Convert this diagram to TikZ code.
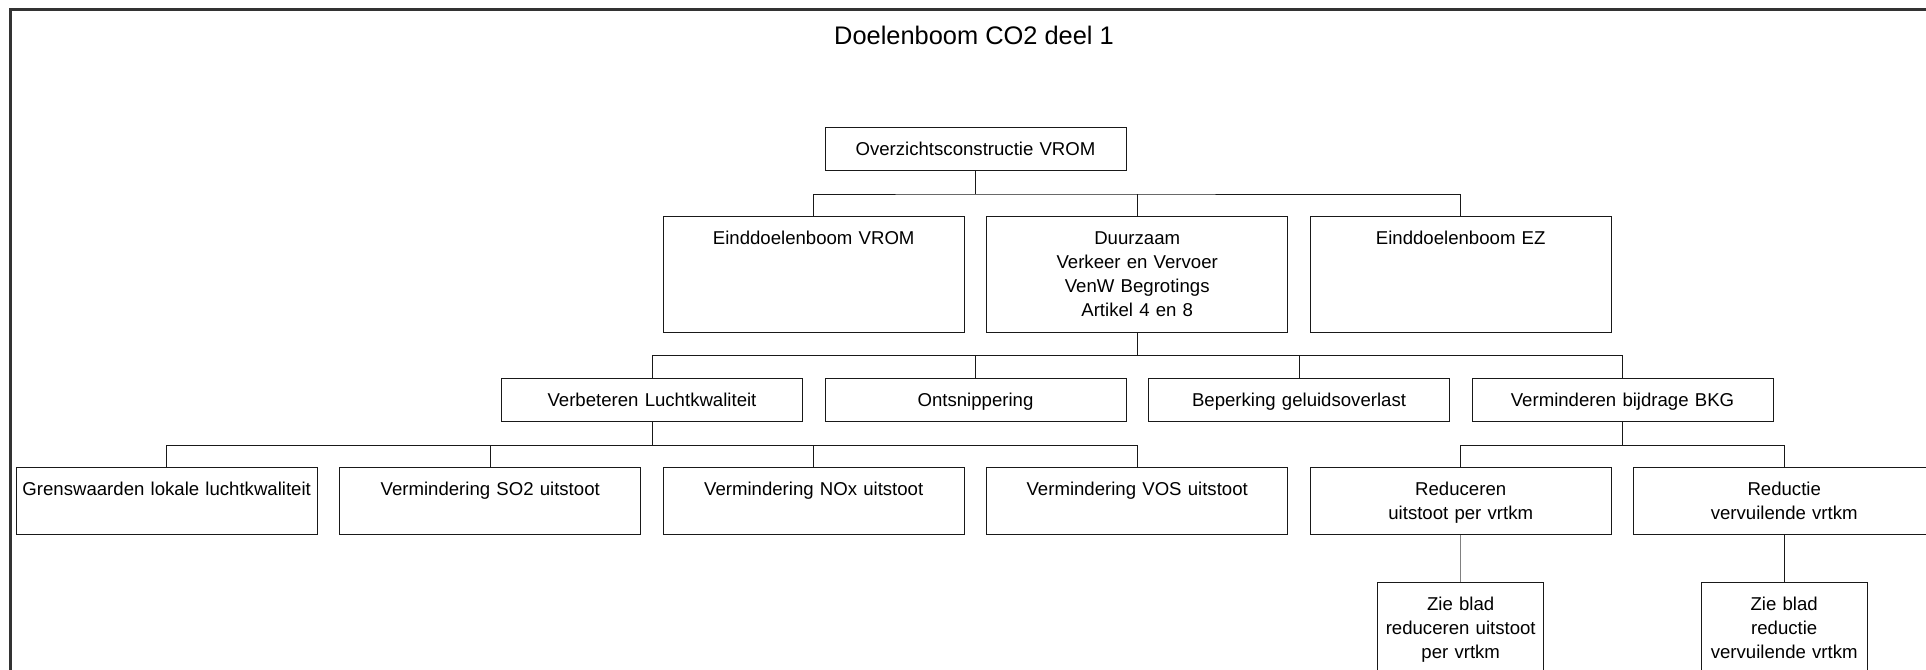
\documentclass[tikz,border=0pt]{standalone}
\usepackage{fontspec}
\setmainfont{Liberation Sans}
\usetikzlibrary{calc}
\definecolor{lineBlack}{gray}{0.1}
\definecolor{frameGray}{gray}{0.2}

\begin{document}
\begin{tikzpicture}[x=0.5pt, y=-0.5pt,
    goal/.style={draw=lineBlack, line width=0.5pt, anchor=north, align=center, inner sep=0pt,
        text width=150.5pt, text height=14pt, font=\fontsize{9.3}{12}\selectfont},
    sheetbox/.style={goal, text width=83pt, text depth=51pt},
    link/.style={draw=lineBlack, line width=0.5pt}]
    \useasboundingbox (0,0) rectangle (1926,669);
    \clip (0,0) rectangle (1926,669);

    \draw[frameGray, line width=1.3pt] (10.5,720) |- (1940,9.5);
    \node[font=\fontsize{12.7}{15}\selectfont] (title) at (974,35) {Doelenboom CO2 deel 1};

    \node[goal, text depth=7.5pt] (root) at (975.5,127) {Overzichtsconstructie VROM};

    % level 1
    \node[goal, text depth=44pt] (vrom)  at (813.7,216)  {Einddoelenboom VROM};
    \node[goal, text depth=44pt] (duurz) at (1137.2,216) {Duurzaam\\Verkeer en Vervoer\\VenW Begrotings\\Artikel 4 en 8};
    \node[goal, text depth=44pt] (ez)    at (1460.7,216) {Einddoelenboom EZ};

    % level 2
    \node[goal, text depth=7.2pt] (lucht)  at (652,378.3)    {Verbeteren Luchtkwaliteit};
    \node[goal, text depth=7.2pt] (ontsn)  at (975.5,378.3)  {Ontsnippering};
    \node[goal, text depth=7.2pt] (geluid) at (1299,378.3)   {Beperking geluidsoverlast};
    \node[goal, text depth=7.2pt] (bkg)    at (1622.5,378.3) {Verminderen bijdrage BKG};

    % level 3
    \node[goal, text depth=19.5pt] (grens)   at (166.7,467.3)  {Grenswaarden lokale luchtkwaliteit};
    \node[goal, text depth=19.5pt] (so2)     at (490.2,467.3)  {Vermindering SO2 uitstoot};
    \node[goal, text depth=19.5pt] (nox)     at (813.7,467.3)  {Vermindering NOx uitstoot};
    \node[goal, text depth=19.5pt] (vos)     at (1137.2,467.3) {Vermindering VOS uitstoot};
    \node[goal, text depth=19.5pt] (reduc)   at (1460.7,467.3) {Reduceren\\uitstoot per vrtkm};
    \node[goal, text depth=19.5pt] (vervuil) at (1784.2,467.3) {Reductie\\vervuilende vrtkm};

    % level 4
    \node[sheetbox] (zieA) at (1460.7,581.7) {Zie blad\\reduceren uitstoot\\per vrtkm};
    \node[sheetbox] (zieB) at (1784.2,581.7) {Zie blad\\reductie\\vervuilende vrtkm};

    \draw[link] (root.south) -- ++(0,23) coordinate (bar1);
    \draw[link] (vrom.north) |- (bar1) -| (ez.north);
    \draw[link] (duurz.north) -- (duurz.north |- bar1);

    \draw[link] (duurz.south) -- ++(0,22.3) coordinate (bar2);
    \draw[link] (lucht.north) |- (bar2) -| (bkg.north);
    \draw[link] (ontsn.north) -- (ontsn.north |- bar2);
    \draw[link] (geluid.north) -- (geluid.north |- bar2);

    \draw[link] (lucht.south) -- ++(0,23.6) coordinate (bar3);
    \draw[link] (grens.north) |- (bar3) -| (vos.north);
    \draw[link] (so2.north) -- (so2.north |- bar3);
    \draw[link] (nox.north) -- (nox.north |- bar3);

    \draw[link] (bkg.south) -- ++(0,23.6) coordinate (bar4);
    \draw[link] (reduc.north) |- (bar4) -| (vervuil.north);

    \draw[link, draw=gray] (reduc.south) -- (zieA.north);
    \draw[link] (vervuil.south) -- (zieB.north);
\end{tikzpicture}
\end{document}
